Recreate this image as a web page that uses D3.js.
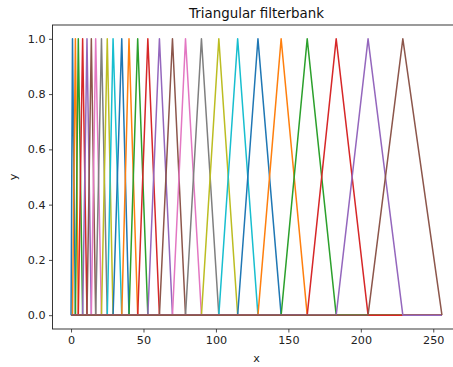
<!DOCTYPE html>
<html>
<head>
<meta charset="utf-8">
<script src="https://cdn.jsdelivr.net/npm/d3@7"></script>
<style>
  body { margin: 0; background: #fff; }
  svg { display: block; font-family: "DejaVu Sans", sans-serif; }
</style>
</head>
<body>
<div id="chart"></div>
<script>
const width = 453;
const height = 367;
const margin = {top: 25, right: -7.5, bottom: 38, left: 52.5};

// filter edge bins: filter i rises from edges[i], peaks at edges[i+1], falls to edges[i+2]
const edges = [0, 1, 3, 5, 8, 11, 14, 17, 21, 25, 29, 35, 40, 46, 53, 61, 70, 79, 90, 102, 115, 129, 145, 163, 183, 205, 229, 256];
const nBins = 256;
const xTicks = [0, 50, 100, 150, 200, 250];
const yTicks = [0, 0.2, 0.4, 0.6, 0.8, 1.0];
const colors = ["#1f77b4", "#ff7f0e", "#2ca02c", "#d62728", "#9467bd", "#8c564b", "#e377c2", "#7f7f7f", "#bcbd22", "#17becf"];

const filters = d3.range(edges.length - 2).map(i => [
  {x: 0, y: 0},
  {x: edges[i], y: 0},
  {x: edges[i + 1], y: 1},
  {x: edges[i + 2], y: 0},
  {x: nBins, y: 0}
]);

const svg = d3.select("#chart").append("svg")
  .attr("width", width)
  .attr("height", height);

const pad = nBins * 0.05;
const x = d3.scaleLinear().domain([-pad, nBins + pad]).range([margin.left, width - margin.right]);
const y = d3.scaleLinear().domain([-0.05, 1.05]).range([height - margin.bottom, margin.top]);

const line = d3.line().x(d => x(d.x)).y(d => y(d.y));

svg.append("g")
  .selectAll("path")
  .data(filters)
  .join("path")
  .attr("fill", "none")
  .attr("stroke", (d, i) => colors[i % colors.length])
  .attr("stroke-width", 1.5)
  .attr("stroke-linejoin", "round")
  .attr("d", line);

const xAxis = svg.append("g")
  .attr("transform", `translate(0,${height - margin.bottom})`)
  .call(d3.axisBottom(x).tickValues(xTicks).tickSize(3.5).tickPadding(3.5).tickFormat(d3.format("d")));
const yAxis = svg.append("g")
  .attr("transform", `translate(${margin.left},0)`)
  .call(d3.axisLeft(y).tickValues(yTicks).tickSize(3.5).tickPadding(3.5).tickFormat(d3.format(".1f")));

[xAxis, yAxis].forEach(g => {
  g.select(".domain").remove();
  g.selectAll("line").attr("stroke", "#222").attr("stroke-width", 0.8);
  g.selectAll("text").attr("fill", "#222").style("font-size", "11.2px").style("font-family", "DejaVu Sans");
});

// axes frame
svg.append("rect")
  .attr("x", margin.left)
  .attr("y", margin.top)
  .attr("width", x.range()[1] - margin.left)
  .attr("height", height - margin.bottom - margin.top)
  .attr("fill", "none")
  .attr("stroke", "#222")
  .attr("stroke-width", 0.9);

svg.append("text")
  .attr("x", (x.range()[0] + x.range()[1]) / 2)
  .attr("y", 17.5)
  .attr("text-anchor", "middle")
  .attr("fill", "#111")
  .style("font-size", "13.4px")
  .text("Triangular filterbank");

svg.append("text")
  .attr("x", (x.range()[0] + x.range()[1]) / 2)
  .attr("y", 362)
  .attr("text-anchor", "middle")
  .attr("fill", "#222")
  .style("font-size", "11.2px")
  .text("x");

svg.append("text")
  .attr("transform", `translate(17,${(y.range()[0] + y.range()[1]) / 2}) rotate(-90)`)
  .attr("text-anchor", "middle")
  .attr("fill", "#222")
  .style("font-size", "11.2px")
  .text("y");
</script>
</body>
</html>
